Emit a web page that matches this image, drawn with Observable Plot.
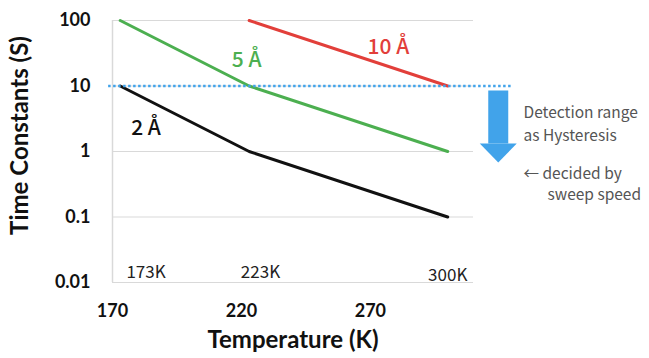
<!DOCTYPE html>
<html><head><meta charset="utf-8">
<script src="https://cdn.jsdelivr.net/npm/d3@7"></script>
<script src="https://cdn.jsdelivr.net/npm/@observablehq/plot@0.6"></script>
<style>body{margin:0;background:#fff}</style>
</head><body><div id="chart"></div>
<script>
// Series data (temperature K, time constant s)
const temp2 = [173, 223, 300];
const tau2 = [10, 1, 0.1];
const temp5 = [173, 223, 300];
const tau5 = [100, 10, 1];
const temp10 = [223, 300];
const tau10 = [100, 10];

const seriesNames = ["2 Å", "5 Å", "10 Å"];
const seriesColors = ["#111111", "#4caf50", "#e23f3a"];
const labelTemp = [183, 222, 277];
const labelTau = [2.3, 24.5, 38.5];

const tempLabels = ["173K", "223K", "300K"];
const tempLabelX = [183, 227.4, 300];
const tempLabelY = [0.0142, 0.0142, 0.0128];

const xTicks = [170, 220, 270];
const yTicks = [0.01, 0.1, 1, 10, 100];

const detectionLimit = 10;
const detectionFrom = 168.5, detectionTo = 325;
const arrowX = 319.6, arrowTop = 8.5, arrowBase = 1.32;

const noteLines = ["Detection range", "as Hysteresis", "← decided by", "sweep speed"];
const noteX = [329.4, 329.4, 329.4, 338.7];
const noteY = [3.8, 1.75, 0.446, 0.213];

const blue = "#41a3ea";
const headSymbol = {draw(ctx) { ctx.moveTo(-18.5, 0); ctx.lineTo(18.5, 0); ctx.lineTo(0, 19); ctx.closePath(); }};

const seriesData = [
  temp2.map((t, i) => ({t, v: tau2[i]})),
  temp5.map((t, i) => ({t, v: tau5[i]})),
  temp10.map((t, i) => ({t, v: tau10[i]}))
];

const lineMarks = seriesData.map((d, i) => Plot.line(d, {x: "t", y: "v", stroke: seriesColors[i], strokeWidth: 3}));
const labelMarks = seriesNames.map((s, i) => Plot.text([s], {x: [labelTemp[i]], y: [labelTau[i]], text: d => d, fill: seriesColors[i], fontSize: 21, fontFamily: "Noto Sans CJK JP", fontWeight: 500}));

const chart = Plot.plot({
  width: 649, height: 358,
  marginLeft: 112, marginRight: 176, marginTop: 20, marginBottom: 76,
  style: {fontFamily: "Lato", background: "#fff", color: "#111"},
  x: {domain: [170, 310]},
  y: {type: "log", domain: [0.01, 100]},
  marks: [
    Plot.gridY(yTicks, {stroke: "#d9d9d9", strokeOpacity: 1, strokeWidth: 1.2}),
    Plot.ruleX([170], {stroke: "#d9d9d9", strokeWidth: 1.5}),
    Plot.axisX({ticks: xTicks, tickSize: 0, tickPadding: 22, fontSize: 18, fontWeight: "bold", label: null}),
    Plot.axisY({ticks: yTicks, tickSize: 0, tickPadding: 22, fontSize: 18, fontWeight: "bold", label: null, tickFormat: d => String(d)}),
    Plot.text(["Temperature (K)"], {frameAnchor: "bottom", lineAnchor: "middle", textAnchor: "middle", dy: 58, fontSize: 24, fontWeight: "bold"}),
    Plot.text(["Time Constants (S)"], {frameAnchor: "left", textAnchor: "middle", rotate: -90, dx: -92, dy: -16, fontSize: 24, fontWeight: "bold"}),
    ...lineMarks,
    Plot.ruleY([detectionLimit], {x1: detectionFrom, x2: detectionTo, stroke: blue, strokeWidth: 2.5, strokeDasharray: "2.5,2.5"}),
    Plot.link([0], {x1: arrowX, x2: arrowX, y1: arrowTop, y2: arrowBase, stroke: blue, strokeWidth: 20}),
    Plot.dot([0], {x: arrowX, y: arrowBase, symbol: headSymbol, r: 5, fill: blue, stroke: "none"}),
    ...labelMarks,
    Plot.text(tempLabels, {x: tempLabelX, y: tempLabelY, text: d => d, fontSize: 17, fontFamily: "Noto Sans CJK JP", fill: "#222"}),
    Plot.text(noteLines, {x: noteX, y: noteY, text: d => d, textAnchor: "start", fontSize: 15.5, fontFamily: "Noto Sans CJK JP", fill: "#555"})
  ]
});
document.getElementById("chart").append(chart);
</script>
</body></html>
